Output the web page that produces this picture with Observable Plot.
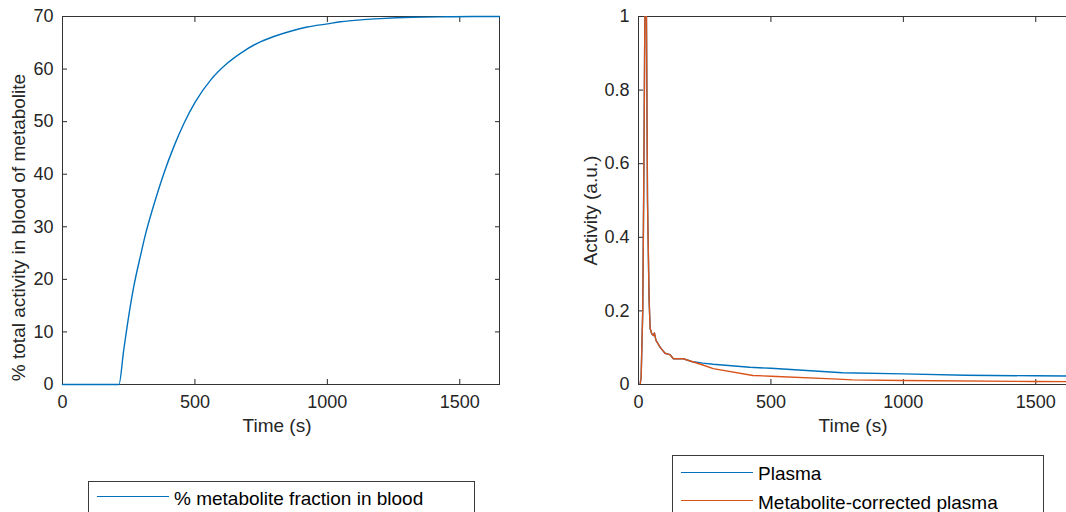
<!DOCTYPE html>
<html><head><meta charset="utf-8">
<script src="https://cdn.jsdelivr.net/npm/d3@7"></script>
<script src="https://cdn.jsdelivr.net/npm/@observablehq/plot@0.6"></script>
<style>
html,body{margin:0;padding:0;background:#fff;overflow:hidden;}
#wrap{position:relative;width:1066px;height:512px;overflow:hidden;font-family:"Liberation Sans",Arial,Helvetica,sans-serif;}
.chart{position:absolute;top:0;}
.legend{position:absolute;background:#fff;border:1px solid #3a3a3a;box-sizing:border-box;font-size:19px;color:#000;}
.item{position:absolute;white-space:nowrap;line-height:19px;}
.swatch{position:absolute;height:0;border-top:1.5px solid;}
</style></head><body><div id="wrap"></div>
<script>
// ---- data ----
const metTime = [0, 213, 231, 250, 269, 295, 313, 339, 351, 383, 420, 458, 502, 559, 622, 672, 735, 798, 861, 924, 1000, 1050, 1136, 1199, 1262, 1324, 1450, 1550, 1650];
const metPct  = [0, 0, 6.5, 13.0, 18.6, 24.6, 28.5, 33.2, 35.2, 40.2, 45.2, 49.6, 53.8, 57.9, 61.1, 63.0, 64.9, 66.2, 67.2, 68.0, 68.6, 69.0, 69.4, 69.6, 69.75, 69.85, 69.95, 70, 70];

const plasmaTime = [6, 10, 16, 20, 24, 27, 30, 34, 40, 44, 50, 56, 60, 66, 82, 100, 119, 132, 169, 201, 243, 282, 420, 500, 770, 1000, 1234, 1498, 1650];
const plasmaAct  = [0, 0.02, 0.2, 0.55, 1.0, 1.15, 1.0, 0.5, 0.23, 0.152, 0.138, 0.133, 0.14, 0.12, 0.101, 0.085, 0.081, 0.07, 0.07, 0.0625, 0.058, 0.055, 0.047, 0.044, 0.032, 0.029, 0.025, 0.0236, 0.023];

const corrTime = [6, 10, 16, 20, 24, 27, 30, 34, 40, 44, 50, 56, 60, 66, 82, 100, 119, 132, 169, 201, 243, 282, 432, 500, 733, 808, 1000, 1498, 1650];
const corrAct  = [0, 0.02, 0.2, 0.55, 1.0, 1.15, 1.0, 0.5, 0.23, 0.152, 0.138, 0.133, 0.14, 0.12, 0.101, 0.085, 0.081, 0.07, 0.07, 0.0625, 0.053, 0.043, 0.0245, 0.0226, 0.0154, 0.0127, 0.011, 0.008, 0.0077];

const xTicks = [0, 500, 1000, 1500];
const leftYTicks = [0, 10, 20, 30, 40, 50, 60, 70];
const rightYTicks = [0, 0.2, 0.4, 0.6, 0.8, 1];

const xLabel = "Time (s)";
const leftYLabel = "% total activity in blood of metabolite";
const rightYLabel = "Activity (a.u.)";
const leftLegend = ["% metabolite fraction in blood"];
const rightLegend = ["Plasma", "Metabolite-corrected plasma"];

const BLUE = "#0072BD", ORANGE = "#D95319", AX = "#262626";

const rows = (ts, vs) => ts.map((t, i) => ({t, v: vs[i]}));

function boxAxes(yTicks) {
  const fmt = d => String(d);
  const none = () => "";
  return [
    Plot.axisX({anchor: "bottom", ticks: xTicks, tickSize: 0, tickPadding: 11, tickFormat: fmt, label: null, fontSize: 18}),
    Plot.axisX({anchor: "bottom", ticks: xTicks, tickSize: 5, dy: -5, tickFormat: none, label: null}),
    Plot.axisX({anchor: "top", ticks: xTicks, tickSize: 5, dy: 5, tickFormat: none, label: null}),
    Plot.axisY({anchor: "left", ticks: yTicks, tickSize: 0, tickPadding: 9, tickFormat: fmt, label: null, fontSize: 18}),
    Plot.axisY({anchor: "left", ticks: yTicks, tickSize: 5, dx: 5, tickFormat: none, label: null}),
    Plot.axisY({anchor: "right", ticks: yTicks, tickSize: 5, dx: -5, tickFormat: none, label: null}),
    Plot.frame({stroke: "#333", strokeWidth: 1})
  ];
}

const style = {fontFamily: '"Liberation Sans", Arial, Helvetica, sans-serif', fontSize: "18px", color: AX, background: "transparent", overflow: "visible"};

const left = Plot.plot({
  width: 533, height: 512,
  marginLeft: 62, marginRight: 34, marginTop: 16, marginBottom: 128,
  style,
  x: {domain: [0, 1650]},
  y: {domain: [0, 70]},
  marks: [
    ...boxAxes(leftYTicks),
    Plot.line(rows(metTime, metPct), {x: "t", y: "v", stroke: BLUE, strokeWidth: 1.4, curve: "monotone-x"}),
    Plot.text([xLabel], {text: d => d, frameAnchor: "bottom", textAnchor: "middle", lineAnchor: "middle", dx: -4, dy: 41, fontSize: 19, fill: AX}),
    Plot.text([leftYLabel], {text: d => d, frameAnchor: "left", textAnchor: "middle", lineAnchor: "middle", rotate: -90, dx: -44, dy: 27, fontSize: 19, fill: AX})
  ]
});
left.classList.add("chart");
left.style.left = "0px";

const right = Plot.plot({
  width: 560, height: 512,
  marginLeft: 105, marginRight: 18, marginTop: 16, marginBottom: 128,
  style,
  x: {domain: [0, 1650]},
  y: {domain: [0, 1]},
  marks: [
    ...boxAxes(rightYTicks),
    Plot.line(rows(plasmaTime, plasmaAct), {x: "t", y: "v", stroke: BLUE, strokeWidth: 1.4, clip: true}),
    Plot.line(rows(corrTime, corrAct), {x: "t", y: "v", stroke: ORANGE, strokeWidth: 1.4, clip: true}),
    Plot.text([xLabel], {text: d => d, frameAnchor: "bottom", textAnchor: "middle", lineAnchor: "middle", dx: -4, dy: 41, fontSize: 19, fill: AX}),
    Plot.text([rightYLabel], {text: d => d, frameAnchor: "left", textAnchor: "middle", lineAnchor: "middle", rotate: -90, dx: -48, dy: 10, fontSize: 19, fill: AX})
  ]
});
right.classList.add("chart");
right.style.left = "533px";

const wrap = document.getElementById("wrap");
wrap.appendChild(left);
wrap.appendChild(right);

function legend(box, items) {
  const d = document.createElement("div");
  d.className = "legend";
  Object.assign(d.style, {left: box.x + "px", top: box.y + "px", width: box.w + "px", height: box.h + "px"});
  items.forEach((it) => {
    const s = document.createElement("div");
    s.className = "swatch";
    Object.assign(s.style, {left: "8px", top: (it.ly) + "px", width: "72px", borderTopColor: it.color});
    const t = document.createElement("div");
    t.className = "item";
    t.textContent = it.label;
    Object.assign(t.style, {left: "85px", top: it.ty + "px"});
    d.appendChild(s); d.appendChild(t);
  });
  wrap.appendChild(d);
}
legend({x: 88, y: 481, w: 387, h: 40}, [{label: leftLegend[0], color: BLUE, ly: 14, ty: 7}]);
legend({x: 672, y: 455, w: 372, h: 70}, [
  {label: rightLegend[0], color: BLUE, ly: 16, ty: 8},
  {label: rightLegend[1], color: ORANGE, ly: 44, ty: 37}
]);
</script>
</body></html>
